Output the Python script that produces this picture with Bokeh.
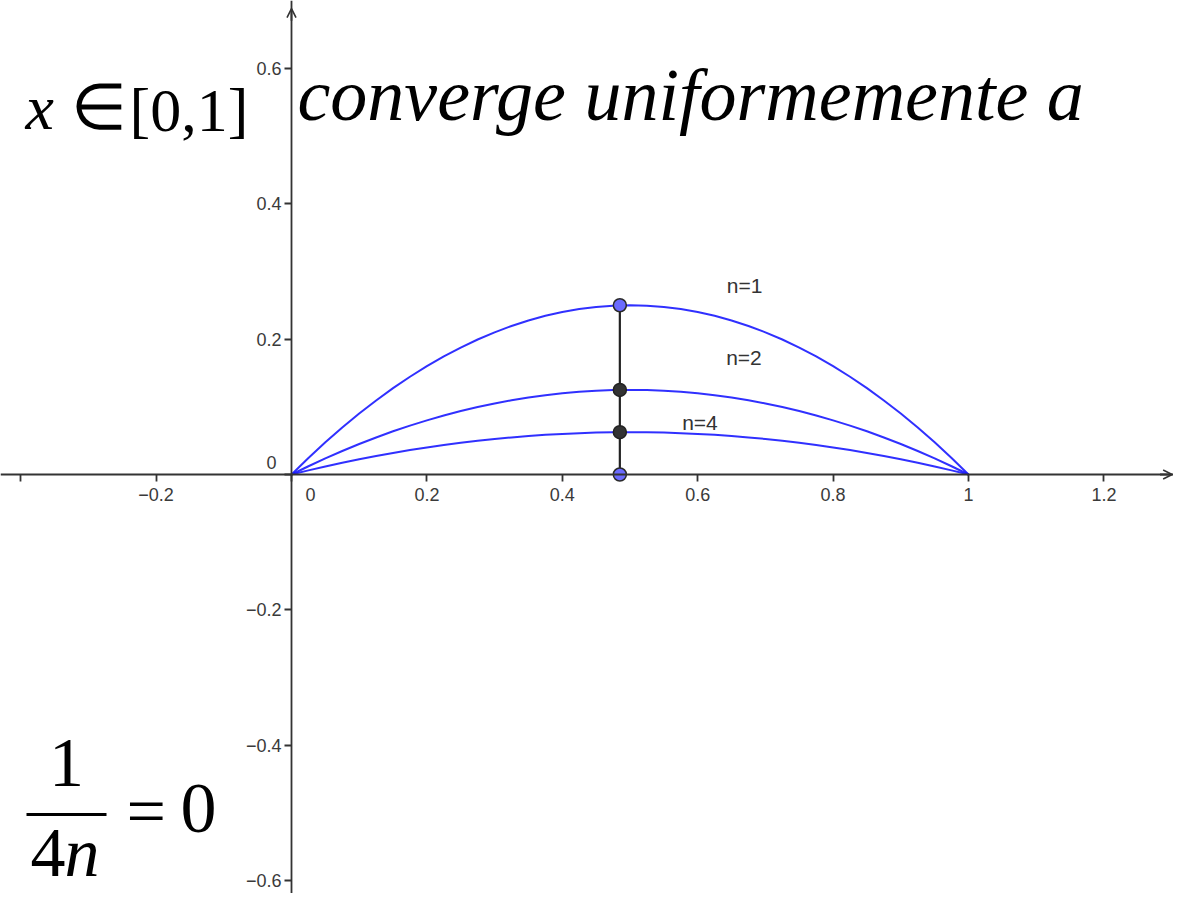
from bokeh.plotting import figure
from bokeh.models import Range1d, LinearAxis, FixedTicker, Label, Arrow, OpenHead
from bokeh.core.properties import value
from bokeh.embed import file_html
from bokeh.resources import INLINE

# ---------------- data ----------------
x_vals = [0.0, 0.025, 0.05, 0.075, 0.10, 0.125, 0.15, 0.175, 0.20, 0.225, 0.25,
          0.275, 0.30, 0.325, 0.35, 0.375, 0.40, 0.425, 0.45, 0.475, 0.50,
          0.525, 0.55, 0.575, 0.60, 0.625, 0.65, 0.675, 0.70, 0.725, 0.75,
          0.775, 0.80, 0.825, 0.85, 0.875, 0.90, 0.925, 0.95, 0.975, 1.0]
y_n1 = [0.0, 0.0244, 0.0475, 0.0694, 0.090, 0.1094, 0.1275, 0.1444, 0.160, 0.1744, 0.1875,
        0.1994, 0.210, 0.2194, 0.2275, 0.2344, 0.240, 0.2444, 0.2475, 0.2494, 0.250,
        0.2494, 0.2475, 0.2444, 0.240, 0.2344, 0.2275, 0.2194, 0.210, 0.1994, 0.1875,
        0.1744, 0.160, 0.1444, 0.1275, 0.1094, 0.090, 0.0694, 0.0475, 0.0244, 0.0]
y_n2 = [0.0, 0.0122, 0.0238, 0.0347, 0.045, 0.0547, 0.0638, 0.0722, 0.080, 0.0872, 0.0938,
        0.0997, 0.105, 0.1097, 0.1138, 0.1172, 0.120, 0.1222, 0.1238, 0.1247, 0.125,
        0.1247, 0.1238, 0.1222, 0.120, 0.1172, 0.1138, 0.1097, 0.105, 0.0997, 0.0938,
        0.0872, 0.080, 0.0722, 0.0638, 0.0547, 0.045, 0.0347, 0.0238, 0.0122, 0.0]
y_n4 = [0.0, 0.0061, 0.0119, 0.0173, 0.0225, 0.0273, 0.0319, 0.0361, 0.040, 0.0436, 0.0469,
        0.0498, 0.0525, 0.0548, 0.0569, 0.0586, 0.060, 0.0611, 0.0619, 0.0623, 0.0625,
        0.0623, 0.0619, 0.0611, 0.060, 0.0586, 0.0569, 0.0548, 0.0525, 0.0498, 0.0469,
        0.0436, 0.040, 0.0361, 0.0319, 0.0273, 0.0225, 0.0173, 0.0119, 0.0061, 0.0]
curve_labels = ["n=1", "n=2", "n=4"]
label_x = [0.643, 0.642, 0.577]
label_y = [0.279, 0.173, 0.077]

point_x = 0.485
point_y_blue = [0.25, 0.0]
point_y_dark = [0.125, 0.0625]

x_ticks = [-0.4, -0.2, 0.0, 0.2, 0.4, 0.6, 0.8, 1.0, 1.2]
y_ticks = [-0.6, -0.4, -0.2, 0.0, 0.2, 0.4, 0.6]

# ---------------- layout helpers ----------------
W, H = 1173, 893
OX, OY, PXU = 291.0, 474.0, 677.0   # picture pixel of origin, pixels per unit
X0, X1 = (0 - OX) / PXU, (W - OX) / PXU
Y0, Y1 = (OY - H) / PXU, (OY - 0) / PXU

def dx(X):
    return (X - OX) / PXU

def dy(Y):
    return (OY - Y) / PXU

p = figure(width=W, height=H, output_backend="svg", toolbar_location=None,
           x_range=Range1d(X0, X1), y_range=Range1d(Y0, Y1),
           x_axis_type=None, y_axis_type=None, min_border=0)
p.outline_line_color = None
p.xgrid.visible = False
p.ygrid.visible = False
p.background_fill_color = "white"

AX_COLOR = "#333333"
TICK_FONT = "Liberation Sans"
TICK_COLOR = "#3a3a3a"

xaxis = LinearAxis(fixed_location=0, ticker=FixedTicker(ticks=x_ticks),
                   major_label_overrides={0: "", -0.4: ""})
yaxis = LinearAxis(fixed_location=0, ticker=FixedTicker(ticks=y_ticks),
                   major_label_overrides={0: ""})
for ax in (xaxis, yaxis):
    ax.axis_line_color = AX_COLOR
    ax.axis_line_width = 1.8
    ax.major_tick_line_color = AX_COLOR
    ax.major_tick_line_width = 1.8
    ax.major_tick_out = 7
    ax.major_tick_in = 0
    ax.minor_tick_out = 0
    ax.minor_tick_in = 0
    ax.major_label_text_font = TICK_FONT
    ax.major_label_text_font_size = "18px"
    ax.major_label_text_color = TICK_COLOR
xaxis.major_label_standoff = 6
yaxis.major_label_standoff = 3
p.add_layout(xaxis, "below")
p.add_layout(yaxis, "left")

# zero labels
p.add_layout(Label(x=dx(310), y=dy(494), text="0", text_font=TICK_FONT,
                   text_font_size="18px", text_color=TICK_COLOR,
                   text_align="center", text_baseline="middle"))
p.add_layout(Label(x=dx(271), y=dy(462), text="0", text_font=TICK_FONT,
                   text_font_size="18px", text_color=TICK_COLOR,
                   text_align="center", text_baseline="middle"))

# axis arrows
p.add_layout(Arrow(end=OpenHead(size=9, line_color=AX_COLOR, line_width=1.6),
                   x_start=X1 - 0.02, y_start=0, x_end=X1 - 0.002, y_end=0,
                   line_color=AX_COLOR, line_width=1.8))
p.add_layout(Arrow(end=OpenHead(size=9, line_color=AX_COLOR, line_width=1.6),
                   x_start=0, y_start=Y1 - 0.03, x_end=0, y_end=Y1 - 0.012,
                   line_color=AX_COLOR, line_width=1.8))

# curves
for ys in (y_n1, y_n2, y_n4):
    p.line(x_vals, ys, line_color="#1a1aff", line_width=2.0, line_alpha=0.9)

# curve labels
p.text(x=label_x, y=label_y, text=curve_labels, text_font=value("Liberation Sans"),
       text_font_size="21px", text_color="#333333", text_baseline="middle",
       text_align="left")

# vertical segment and points
p.segment(x0=[point_x], y0=[min(point_y_blue)], x1=[point_x], y1=[max(point_y_blue)],
          line_color="#222222", line_width=2.2)
p.scatter([point_x] * len(point_y_blue), point_y_blue, size=13,
          fill_color="#6b6bff", line_color="#2a2a2a", line_width=1.5)
p.scatter([point_x] * len(point_y_dark), point_y_dark, size=13,
          fill_color="#333333", line_color="#222222", line_width=1.5)

# big formula texts (Y is the wanted baseline in picture pixels)
SERIF = "Liberation Serif"
BASE_SHIFT = 0.355
def big(text, X, Y, size, style="normal", align="left"):
    p.add_layout(Label(x=dx(X), y=dy(Y - BASE_SHIFT * size), text=text, text_font=SERIF,
                       text_font_size=f"{size}px", text_font_style=style,
                       text_color="black", text_align=align,
                       text_baseline="alphabetic"))

big("x", 25, 130, 64, "italic")
big("\u2208", 70, 130, 64)
big("[0,1]", 129, 132, 62)
big("converge uniformemente a", 297, 121, 74, "italic")

big("1", 66, 787, 70, align="center")
p.segment(x0=[dx(26)], y0=[dy(814)], x1=[dx(106)], y1=[dy(814)],
          line_color="black", line_width=3)
big("4", 30, 877, 70)
big("n", 64, 877, 70, "italic")
big("=", 126, 836, 70)
big("0", 180, 834, 72)

open("out.html", "w").write(file_html(p, INLINE))
